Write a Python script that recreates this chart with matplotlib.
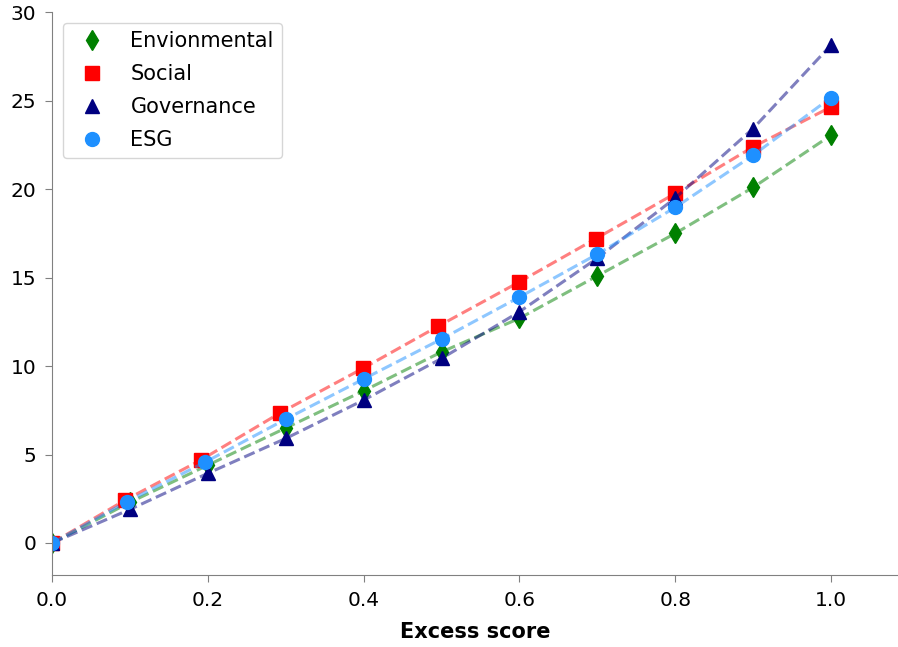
import numpy as np
import matplotlib
matplotlib.use("Agg")
import matplotlib.pyplot as plt

# values
x_env = [0.0, 0.1, 0.2, 0.3, 0.4, 0.5, 0.6, 0.7, 0.8, 0.9, 1.0]
env = [0.0, 2.3, 4.4, 6.5, 8.6, 10.8, 12.7, 15.1, 17.5, 20.1, 23.05]

x_soc = [0.0, 0.094, 0.191, 0.293, 0.399, 0.496, 0.6, 0.698, 0.8, 0.9, 1.0]
soc = [0.0, 2.43, 4.69, 7.36, 9.87, 12.26, 14.76, 17.2, 19.76, 22.39, 24.65]

x_gov = [0.0, 0.1, 0.2, 0.3, 0.4, 0.5, 0.6, 0.7, 0.8, 0.9, 1.0]
gov = [0.0, 1.9, 3.94, 5.91, 8.08, 10.43, 13.07, 16.1, 19.5, 23.43, 28.15]

x_esg = [0.0, 0.096, 0.196, 0.3, 0.4, 0.5, 0.6, 0.7, 0.8, 0.9, 1.0]
esg = [0.0, 2.33, 4.56, 7.0, 9.27, 11.53, 13.9, 16.33, 18.97, 21.92, 25.18]

series = [
    (x_env, env, "green", "d", "Envionmental"),
    (x_soc, soc, "red", "s", "Social"),
    (x_gov, gov, "navy", "^", "Governance"),
    (x_esg, esg, "dodgerblue", "o", "ESG"),
]

fig, ax = plt.subplots(figsize=(8.98, 6.47), dpi=100)
fig.subplots_adjust(left=0.058, right=1.0, top=0.981, bottom=0.111)

for xs, ys, color, marker, label in series:
    ax.plot(xs, ys, "--", color=color, alpha=0.5, lw=2.2)
    ax.plot(xs, ys, linestyle="none", marker=marker, color=color,
            markersize=10, label=label)

ax.set_xlim(0, 1.086)
ax.set_ylim(-1.82, 30)
ax.set_xticks([0.0, 0.2, 0.4, 0.6, 0.8, 1.0])
ax.set_yticks([0, 5, 10, 15, 20, 25, 30])
ax.tick_params(labelsize=14.5, color="gray", length=5, pad=6.5)
ax.set_xlabel("Excess score", fontsize=15, fontweight="bold", labelpad=8.5)

for side in ["top", "right"]:
    ax.spines[side].set_visible(False)
for side in ["left", "bottom"]:
    ax.spines[side].set_color("gray")

ax.legend(loc="upper left", fontsize=15, borderpad=0.4, labelspacing=0.62,
          handletextpad=0.86)

plt.savefig("out.png", dpi=100)
